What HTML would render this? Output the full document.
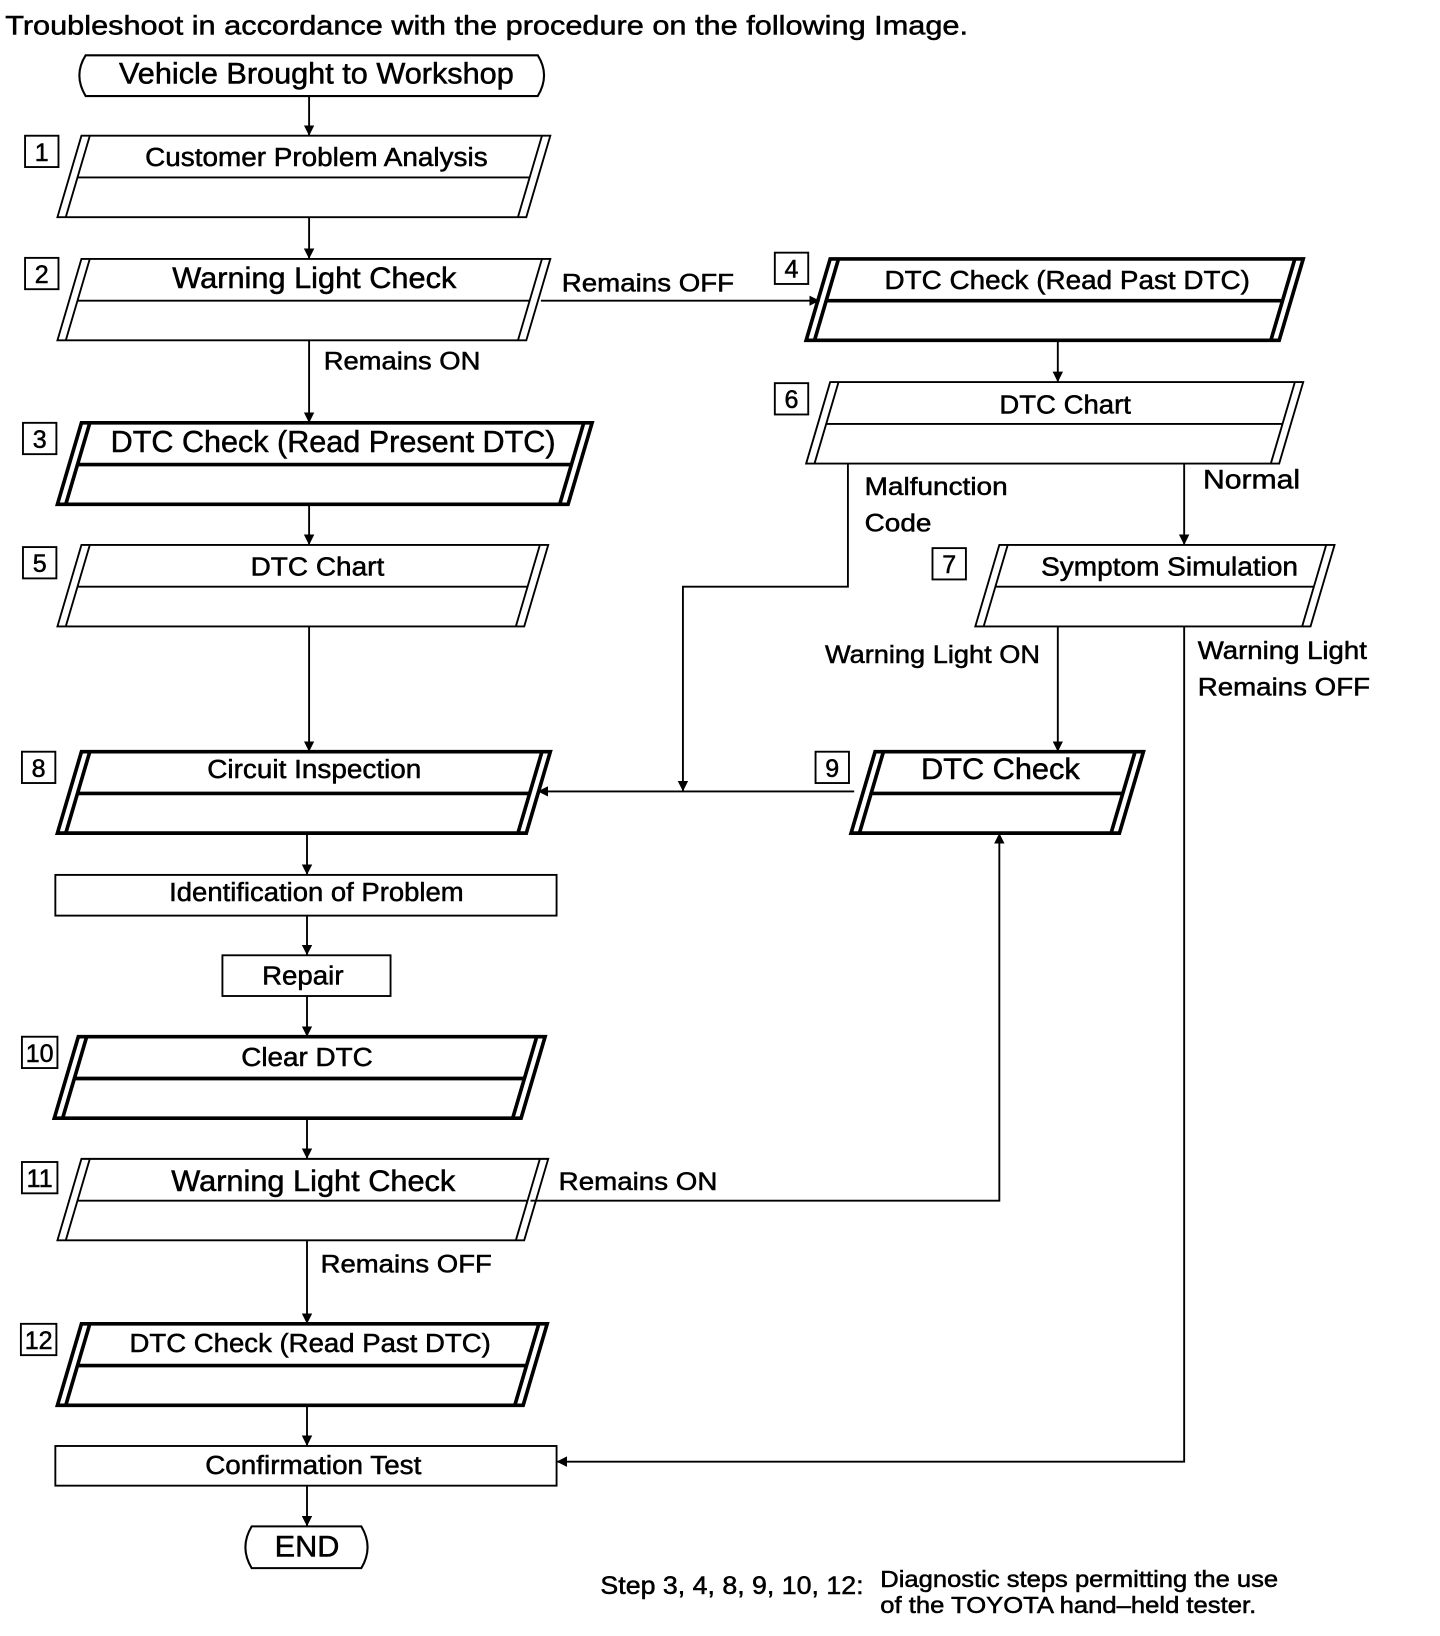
<!DOCTYPE html>
<html><head><meta charset="utf-8"><style>
html,body{margin:0;padding:0;background:#fff;}
svg{display:block;}
text{font-family:"Liberation Sans",Arial,sans-serif;fill:#000;stroke:#000;stroke-width:0.5;}
</style></head><body>
<svg width="1440" height="1636" viewBox="0 0 1379 1567" preserveAspectRatio="none" xmlns="http://www.w3.org/2000/svg">
<defs>
<marker id="a" markerWidth="10" markerHeight="14" refX="10" refY="7" orient="auto" markerUnits="userSpaceOnUse">
<path d="M0,2 L10,7 L0,12 z" fill="#000"/></marker>
</defs>
<g fill="none" stroke="#000">
<path d="M82,53 H515 Q527,72 515,92 H82 Q70,72 82,53 Z" stroke-width="2"/>
<path d="M241,1462 H346 Q358,1482 346,1502 H241 Q229,1482 241,1462 Z" stroke-width="2"/>
<rect x="53" y="838" width="480" height="39" stroke-width="1.8"/>
<rect x="213" y="915" width="161" height="39" stroke-width="1.8"/>
<rect x="53" y="1385" width="480" height="38" stroke-width="1.8"/>
</g>
<g fill="none" stroke="#000" stroke-width="1.8">
<polygon points="78,130 527,130 504,208 55,208"/><path d="M86,130 L63,208 M519,130 L496,208 M74,170 H507"/>
<polygon points="78,248 527,248 504,326 55,326"/><path d="M86,248 L63,326 M519,248 L496,326 M74,288 H507"/>
<polygon points="78,522 525,522 502,600 55,600"/><path d="M86,522 L63,600 M517,522 L494,600 M74,562 H505"/>
<polygon points="78,1110 525,1110 502,1188 55,1188"/><path d="M86,1110 L63,1188 M517,1110 L494,1188 M74,1150 H505"/>
<polygon points="795,366 1248,366 1225,444 772,444"/><path d="M803,366 L780,444 M1240,366 L1217,444 M791,406 H1228"/>
<polygon points="957,522 1278,522 1255,600 934,600"/><path d="M965,522 L942,600 M1270,522 L1247,600 M953,562 H1258"/>
</g>
<g fill="none" stroke="#000" stroke-width="3.5">
<polygon points="78,405 567,405 544,483 55,483"/><path d="M86,405 L63,483 M559,405 L536,483 M74,445 H547"/>
<polygon points="78,720 527,720 504,798 55,798"/><path d="M86,720 L63,798 M519,720 L496,798 M74,760 H507"/>
<polygon points="75,993 522,993 499,1071 52,1071"/><path d="M83,993 L60,1071 M514,993 L491,1071 M71,1033 H502"/>
<polygon points="78,1268 524,1268 501,1346 55,1346"/><path d="M86,1268 L63,1346 M516,1268 L493,1346 M74,1308 H504"/>
<polygon points="795,248 1248,248 1225,326 772,326"/><path d="M803,248 L780,326 M1240,248 L1217,326 M791,288 H1228"/>
<polygon points="838,720 1095,720 1072,798 815,798"/><path d="M846,720 L823,798 M1087,720 L1064,798 M834,760 H1075"/>
</g>
<g fill="none" stroke="#000" stroke-width="1.8" marker-end="url(#a)">
<path d="M296,92 V130"/>
<path d="M296,208 V248"/>
<path d="M296,326 V405"/>
<path d="M296,483 V522"/>
<path d="M296,600 V720"/>
<path d="M294,798 V838"/>
<path d="M294,877 V915"/>
<path d="M294,954 V993"/>
<path d="M294,1071 V1110"/>
<path d="M294,1188 V1268"/>
<path d="M294,1346 V1385"/>
<path d="M294,1423 V1462"/>
<path d="M518,288 H785"/>
<path d="M1013,326 V366"/>
<path d="M812,444 V562 H654 V758"/>
<path d="M1134,444 V522"/>
<path d="M1013,600 V720"/>
<path d="M818,758 H515"/>
<path d="M1134,600 V1400 H533"/>
<path d="M508,1150 H957 V798"/>
</g>
<g fill="none" stroke="#000" stroke-width="1.8">
<rect x="24" y="130" width="32" height="30"/>
<rect x="24" y="247" width="32" height="30"/>
<rect x="22" y="405" width="32" height="30"/>
<rect x="22" y="524" width="32" height="30"/>
<rect x="21" y="720" width="32" height="30"/>
<rect x="21" y="993" width="34" height="30"/>
<rect x="21" y="1113" width="34" height="30"/>
<rect x="20" y="1268" width="34" height="30"/>
<rect x="742" y="242" width="32" height="30"/>
<rect x="742" y="367" width="32" height="30"/>
<rect x="893" y="525" width="32" height="30"/>
<rect x="781" y="720" width="32" height="30"/>
</g>
<g font-size="24" text-anchor="middle">
<text x="40" y="154">1</text><text x="40" y="271">2</text><text x="38" y="429">3</text>
<text x="38" y="548">5</text><text x="37" y="744">8</text><text x="38" y="1017">10</text>
<text x="38" y="1137">11</text><text x="37" y="1292">12</text><text x="758" y="266">4</text>
<text x="758" y="391">6</text><text x="909" y="549">7</text><text x="797" y="744">9</text>
</g>
<text x="5" y="33" font-size="26" textLength="922" lengthAdjust="spacingAndGlyphs">Troubleshoot in accordance with the procedure on the following Image.</text>
<g text-anchor="middle">
<text x="303" y="80" font-size="28" textLength="378" lengthAdjust="spacingAndGlyphs">Vehicle Brought to Workshop</text>
<text x="303" y="159" font-size="25" textLength="328" lengthAdjust="spacingAndGlyphs">Customer Problem Analysis</text>
<text x="301" y="276" font-size="28" textLength="272" lengthAdjust="spacingAndGlyphs">Warning Light Check</text>
<text x="319" y="433" font-size="29" textLength="426" lengthAdjust="spacingAndGlyphs">DTC Check (Read Present DTC)</text>
<text x="304" y="551" font-size="25" textLength="128" lengthAdjust="spacingAndGlyphs">DTC Chart</text>
<text x="301" y="745" font-size="25" textLength="205" lengthAdjust="spacingAndGlyphs">Circuit Inspection</text>
<text x="303" y="863" font-size="25" textLength="282" lengthAdjust="spacingAndGlyphs">Identification of Problem</text>
<text x="290" y="943" font-size="25" textLength="78" lengthAdjust="spacingAndGlyphs">Repair</text>
<text x="294" y="1021" font-size="25" textLength="126" lengthAdjust="spacingAndGlyphs">Clear DTC</text>
<text x="300" y="1141" font-size="28" textLength="272" lengthAdjust="spacingAndGlyphs">Warning Light Check</text>
<text x="297" y="1295" font-size="25" textLength="346" lengthAdjust="spacingAndGlyphs">DTC Check (Read Past DTC)</text>
<text x="300" y="1412" font-size="25" textLength="207" lengthAdjust="spacingAndGlyphs">Confirmation Test</text>
<text x="294" y="1491" font-size="28" textLength="62" lengthAdjust="spacingAndGlyphs">END</text>
<text x="1022" y="277" font-size="25" textLength="350" lengthAdjust="spacingAndGlyphs">DTC Check (Read Past DTC)</text>
<text x="1020" y="396" font-size="25" textLength="126" lengthAdjust="spacingAndGlyphs">DTC Chart</text>
<text x="1120" y="551" font-size="25" textLength="246" lengthAdjust="spacingAndGlyphs">Symptom Simulation</text>
<text x="958" y="746" font-size="28" textLength="152" lengthAdjust="spacingAndGlyphs">DTC Check</text>
</g>
<g font-size="24">
<text x="538" y="279" textLength="165" lengthAdjust="spacingAndGlyphs">Remains OFF</text>
<text x="310" y="354" textLength="150" lengthAdjust="spacingAndGlyphs">Remains ON</text>
<text x="828" y="474" textLength="137" lengthAdjust="spacingAndGlyphs">Malfunction</text>
<text x="828" y="509" textLength="64" lengthAdjust="spacingAndGlyphs">Code</text>
<text x="1152" y="468" font-size="26" textLength="93" lengthAdjust="spacingAndGlyphs">Normal</text>
<text x="790" y="635" textLength="206" lengthAdjust="spacingAndGlyphs">Warning Light ON</text>
<text x="1147" y="631" textLength="162" lengthAdjust="spacingAndGlyphs">Warning Light</text>
<text x="1147" y="666" textLength="165" lengthAdjust="spacingAndGlyphs">Remains OFF</text>
<text x="535" y="1140" textLength="152" lengthAdjust="spacingAndGlyphs">Remains ON</text>
<text x="307" y="1219" textLength="164" lengthAdjust="spacingAndGlyphs">Remains OFF</text>
<text x="575" y="1527" textLength="252" lengthAdjust="spacingAndGlyphs">Step 3, 4, 8, 9, 10, 12:</text>
<text x="843" y="1520" font-size="22" textLength="381" lengthAdjust="spacingAndGlyphs">Diagnostic steps permitting the use</text>
<text x="843" y="1545" font-size="22" textLength="360" lengthAdjust="spacingAndGlyphs">of the TOYOTA hand–held tester.</text>
</g>
</svg>
</body></html>
